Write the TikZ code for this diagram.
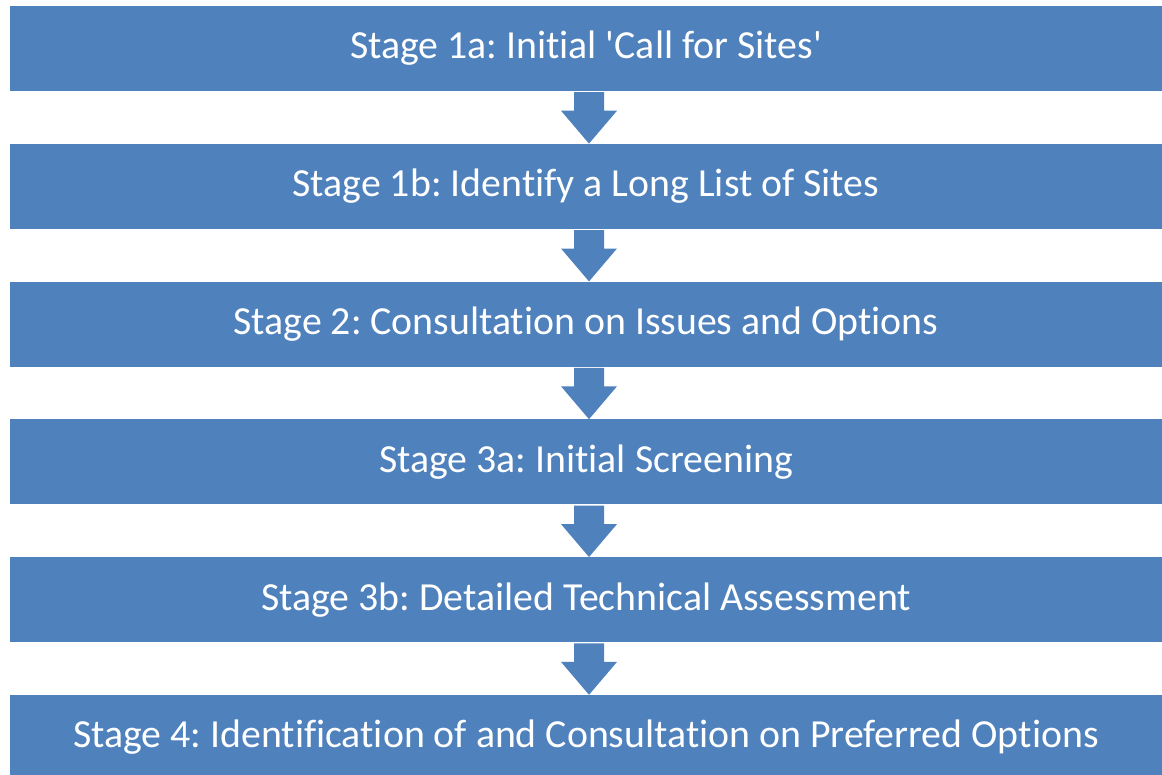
\documentclass[tikz,border=0pt]{standalone}
\usepackage{fontspec}
\newfontfamily\stagefont{Carlito}[Ligatures=NoCommon]
\usetikzlibrary{calc}
\definecolor{stageblue}{HTML}{4F81BD}
\frenchspacing
\begin{document}
\begin{tikzpicture}[x=1pt,y=-1pt,
  stagebox/.style={fill=stageblue, text=white, minimum width=1152pt,
    minimum height=85pt, inner sep=0pt, font=\stagefont\fontsize{39.8}{44}\selectfont},
  flowarrow/.style={fill=stageblue}]
\useasboundingbox (0,0) rectangle (1162,774);

% stage boxes, stacked top to bottom
\node[stagebox] (s1) at (586,48.5)  {Stage 1a: Initial 'Call for Sites'};
\node[stagebox] (s2) at (586,186.3) {Stage 1b: Identify a Long List of Sites};
\node[stagebox] (s3) at (586,324.1) {Stage 2: Consultation on Issues and Options};
\node[stagebox] (s4) at (586,461.9) {Stage 3a: Initial Screening};
\node[stagebox] (s5) at (586,599.7) {Stage 3b: Detailed Technical Assessment};
\node[stagebox] (s6) at (586,737.5) {Stage 4: Identification of and Consultation on Preferred Options};

% block arrows between consecutive stages
\foreach \a/\b in {s1/s2, s2/s3, s3/s4, s4/s5, s5/s6} {
  \fill[flowarrow]
    ($(\a.south)+(-12,1)$) -- ($(\a.south)+(18,1)$) --
    ($(\a.south)+(18,19.5)$) -- ($(\a.south)+(31,19.5)$) --
    ($(\b.north)+(3,0)$) --
    ($(\a.south)+(-25,19.5)$) -- ($(\a.south)+(-12,19.5)$) -- cycle;
}
\end{tikzpicture}
\end{document}
